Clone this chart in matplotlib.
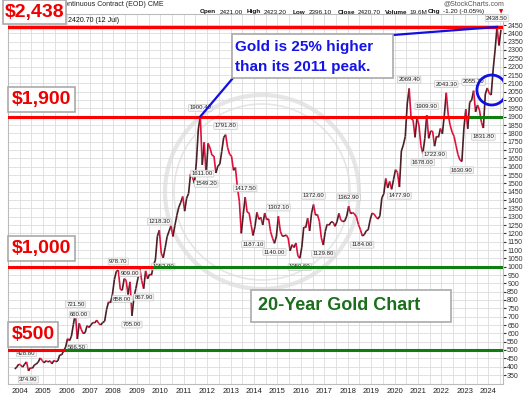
import numpy as np
import matplotlib
matplotlib.use('Agg')
import matplotlib.pyplot as plt
from matplotlib.collections import LineCollection
from matplotlib.patches import Ellipse, Rectangle

# monthly gold closes, Oct 2003 .. Jul 2024
prices = [
    386, 398, 415,
    410, 397, 415, 428.8, 374.9, 394, 390, 410, 416, 428, 452, 437,
    423, 436, 428, 435, 417, 437, 430, 434, 470, 471, 495, 517,
    568, 556, 583, 654, 721.5, 566.5, 660, 624, 599, 604, 646, 635,
    651, 665, 663, 679, 659, 650, 665, 672, 743, 789, 783, 834,
    923, 972, 978.7, 865, 858, 928, 918, 833, 909, 705, 814, 869,
    927, 990, 916, 867.9, 975, 927, 955, 949, 1008, 1040, 1182, 1218.3,
    1081, 1052.9, 1113, 1180, 1213, 1245, 1181, 1248, 1308, 1357, 1386, 1421,
    1333, 1411, 1439, 1556, 1536, 1500, 1628, 1826, 1900.4, 1611, 1746, 1549.2,
    1740, 1712, 1668, 1664, 1562, 1604, 1615, 1692, 1776, 1791.8, 1714, 1675,
    1663, 1578, 1595, 1476, 1393, 1200, 1314, 1417.5, 1327, 1323, 1253, 1187.1,
    1240, 1326, 1284, 1296, 1250, 1322, 1282, 1287, 1210, 1171, 1140, 1184,
    1302.1, 1213, 1183, 1184, 1190, 1172, 1095, 1132, 1115, 1142, 1065, 1050.6,
    1117, 1238, 1234, 1291, 1215, 1321, 1372.6, 1309, 1313, 1272, 1173, 1129.8,
    1211, 1254, 1249, 1268, 1268, 1242, 1269, 1320, 1280, 1270, 1275, 1303,
    1362.9, 1318, 1325, 1316, 1299, 1253, 1223, 1184, 1192, 1215, 1221, 1281,
    1321, 1316, 1298, 1286, 1305, 1413, 1437, 1529, 1472, 1511, 1464, 1523,
    1582, 1566, 1477.9, 1694, 1730, 1781, 1976, 2069.4, 1887, 1879, 1776, 1893,
    1850, 1728, 1678, 1768, 1909.9, 1770, 1814, 1813, 1722.9, 1783, 1776, 1829,
    1797, 1909, 2043.3, 1911, 1848, 1807, 1782, 1726, 1672, 1640, 1630.9, 1826,
    1945, 1827, 1986, 1999, 2055.7, 1929, 1970, 1940, 1866, 1831.8, 2036, 2072,
    2040, 2030, 2180, 2300, 2438.5, 2327, 2420.7,
]
t = np.array([2003 + (9 + i + 0.5) / 12 for i in range(len(prices))])
prices = np.array(prices)

# labelled highs (+1) and lows (-1): year, month, text
peak_labels = [
    (2004, 4, '428.80', 1), (2004, 5, '374.90', -1),
    (2006, 5, '721.50', 1), (2006, 6, '566.50', -1), (2006, 7, '660.00', 1),
    (2008, 3, '978.70', 1), (2008, 5, '858.00', -1), (2008, 9, '909.00', 1),
    (2008, 10, '705.00', -1), (2009, 4, '867.90', -1), (2009, 12, '1218.30', 1),
    (2010, 2, '1052.90', -1), (2011, 9, '1900.40', 1), (2011, 10, '1611.00', -1),
    (2011, 12, '1549.20', -1), (2012, 10, '1791.80', 1), (2013, 8, '1417.50', 1),
    (2013, 12, '1187.10', -1), (2014, 11, '1140.00', -1), (2015, 1, '1302.10', 1),
    (2015, 12, '1050.60', -1), (2016, 7, '1372.60', 1), (2016, 12, '1129.80', -1),
    (2018, 1, '1362.90', 1), (2018, 8, '1184.00', -1), (2020, 3, '1477.90', -1),
    (2020, 8, '2069.40', 1), (2021, 3, '1678.00', -1), (2021, 5, '1909.90', 1),
    (2021, 9, '1722.90', -1), (2022, 3, '2043.30', 1), (2022, 11, '1630.90', -1),
    (2023, 5, '2055.70', 1), (2023, 10, '1831.80', -1), (2024, 5, '2438.50', 1),
]

levels = [500, 1000, 1900]
level_text = ['$500', '$1,000', '$1,900']
level_switch = [2006.0, 2009.75, 2023.24]   # red before, green after
top_level = 2438
years = list(range(2004, 2025))

W, H = 524, 396
fig = plt.figure(figsize=(W / 100, H / 100), dpi=100)
ax = fig.add_axes([8 / W, 1 - 384 / H, 495 / W, 370 / H])
ax.set_xlim(2003.75, 2024.63)
ax.set_ylim(296, 2516)

def fx(px):
    return px / W

def fy(py):
    return 1 - py / H

SMALL = 'Liberation Sans'

# grid
ax.set_yticks(np.arange(350, 2451, 50))
ax.set_xticks(years)
ax.set_xticks(np.arange(2003.5, 2024.6, 0.5), minor=True)
ax.grid(True, which='both', color='#dcdcdc', lw=0.6)
ax.set_axisbelow(True)
ax.yaxis.tick_right()
ax.tick_params(axis='y', labelsize=5, colors='#333333', length=2, pad=1)
ax.tick_params(axis='x', labelsize=5.5, colors='#222222', length=0, pad=3)
ax.tick_params(axis='x', which='minor', length=0)
for lab in ax.get_yticklabels() + ax.get_xticklabels():
    lab.set_family(SMALL)
for s in ax.spines.values():
    s.set_color('#bbbbbb')
    s.set_linewidth(0.8)

# faint coin watermark
for r, lw in [(97, 3), (88, 1.2)]:
    ax.add_patch(Ellipse((fx(262), fy(192)), 2 * r / W, 2 * r / H,
                         transform=fig.transFigure, fill=False,
                         ec='#e6e6e6', lw=lw, zorder=0.5))

# price line, dark when rising, red when falling
pts = np.column_stack([t, prices])
segs = np.stack([pts[:-1], pts[1:]], axis=1)
cols = ['#4a1f26' if b >= a else '#e0103c' for a, b in zip(prices[:-1], prices[1:])]
ax.add_collection(LineCollection(segs, colors=cols, lw=1.2, zorder=3))

# horizontal levels
x0, x1 = ax.get_xlim()
ax.plot([x0, x1], [top_level, top_level], color='#ff0000', lw=2.4, zorder=4)
for lv, sw in zip(levels, level_switch):
    ax.plot([x0, sw], [lv, lv], color='#ff0000', lw=2.2, zorder=4)
    ax.plot([sw, x1], [lv, lv], color='#0f7d0f', lw=2.2, zorder=4)

# peak / trough labels
for y, m, txt, d in peak_labels:
    tx = y + (m - 0.5) / 12
    val = float(txt)
    ax.annotate(txt, (tx, val), xytext=(0, 4.5 * d), textcoords='offset points',
                ha='center', va='bottom' if d > 0 else 'top', fontsize=4.3,
                family=SMALL, color='#222222', zorder=3.5,
                bbox=dict(boxstyle='round,pad=0.15', fc='#f6f6f6', ec='#c8c8c8', lw=0.5))

# blue circle around early-2024 base
ax.add_patch(Ellipse((2024.15, 2060), 30 / 23.7, 30 / 0.1667, fill=False,
                     ec='#1010e0', lw=2, zorder=5))

# blue annotation box and connector lines
inv = ax.transData.inverted()
def to_data(px, py):
    return inv.transform(fig.transFigure.transform((fx(px), fy(py))))

bx0, by0 = to_data(233, 78)
bx1, by1 = to_data(393, 35)
ax.plot([bx0, 2011 + 8.5 / 12], [by0, 1900.4], color='#1010e0', lw=1.6, zorder=5)
ax.plot([bx1, 2024 + 4.5 / 12], [by1, 2438.5], color='#1010e0', lw=1.6, zorder=5)

fig.patches.append(Rectangle((fx(232), fy(78)), 161 / W, 44 / H, transform=fig.transFigure,
                             fc='white', ec='#aaaaaa', lw=1.2, zorder=6))
fig.text(fx(235), fy(47), 'Gold is 25% higher', fontsize=11, fontweight='bold',
         family='Liberation Sans', color='#1414e6', va='center', zorder=7)
fig.text(fx(235), fy(67), 'than its 2011 peak.', fontsize=11, fontweight='bold',
         family='Liberation Sans', color='#1414e6', va='center', zorder=7)

# green title box
fig.patches.append(Rectangle((fx(251), fy(322)), 200 / W, 32 / H, transform=fig.transFigure,
                             fc='white', ec='#aaaaaa', lw=1.2, zorder=6))
fig.text(fx(258), fy(306), '20-Year Gold Chart', fontsize=13, fontweight='bold',
         family='Liberation Sans', color='#1b6e1b', va='center', zorder=7)

# header text
fig.text(fx(38), fy(5), 'Gold - Continuous Contract (EOD) CME', fontsize=5, color='#222222',
         va='center', family=SMALL)
fig.text(fx(504), fy(4), '@StockCharts.com', fontsize=5, color='#555555', va='center',
         ha='right', family=SMALL)
hdr = [('Open', 200, True), ('2421.00', 220, False), ('High', 247, True),
       ('2423.20', 264, False), ('Low', 293, True), ('2396.10', 309, False),
       ('Close', 338, True), ('2420.70', 358, False), ('Volume', 385, True),
       ('19.6M', 409, False), ('Chg', 428, True), ('-1.20 (-0.05%)', 443, False)]
for txt, px, bold in hdr:
    fig.text(fx(px), fy(12), txt, fontsize=4.6, color='#111111', va='center', family=SMALL,
             fontweight='bold' if bold else 'normal')
fig.text(fx(501), fy(12), '▼', fontsize=4, color='#dd0000', va='center', ha='center')
fig.text(fx(68), fy(20), '2420.70 (12 Jul)', fontsize=5, color='#111111', va='center',
         family=SMALL)

# red price boxes
boxes = [('$2,438', 3, 0, 63, 24)] + [
    (txt, 8, top, w, 25) for txt, top, w in
    zip(level_text, [322, 236, 87], [50, 67, 67])]
for txt, lx, ty, w, h in boxes:
    fig.patches.append(Rectangle((fx(lx), fy(ty + h)), w / W, h / H, transform=fig.transFigure,
                                 fc='white', ec='#aaaaaa', lw=1.2, zorder=6))
    fig.text(fx(lx + w / 2), fy(ty + h / 2), txt, fontsize=14, fontweight='bold',
             family='Liberation Sans', color='#ee0000', ha='center', va='center', zorder=7)

fig.savefig('out.png', dpi=100)
